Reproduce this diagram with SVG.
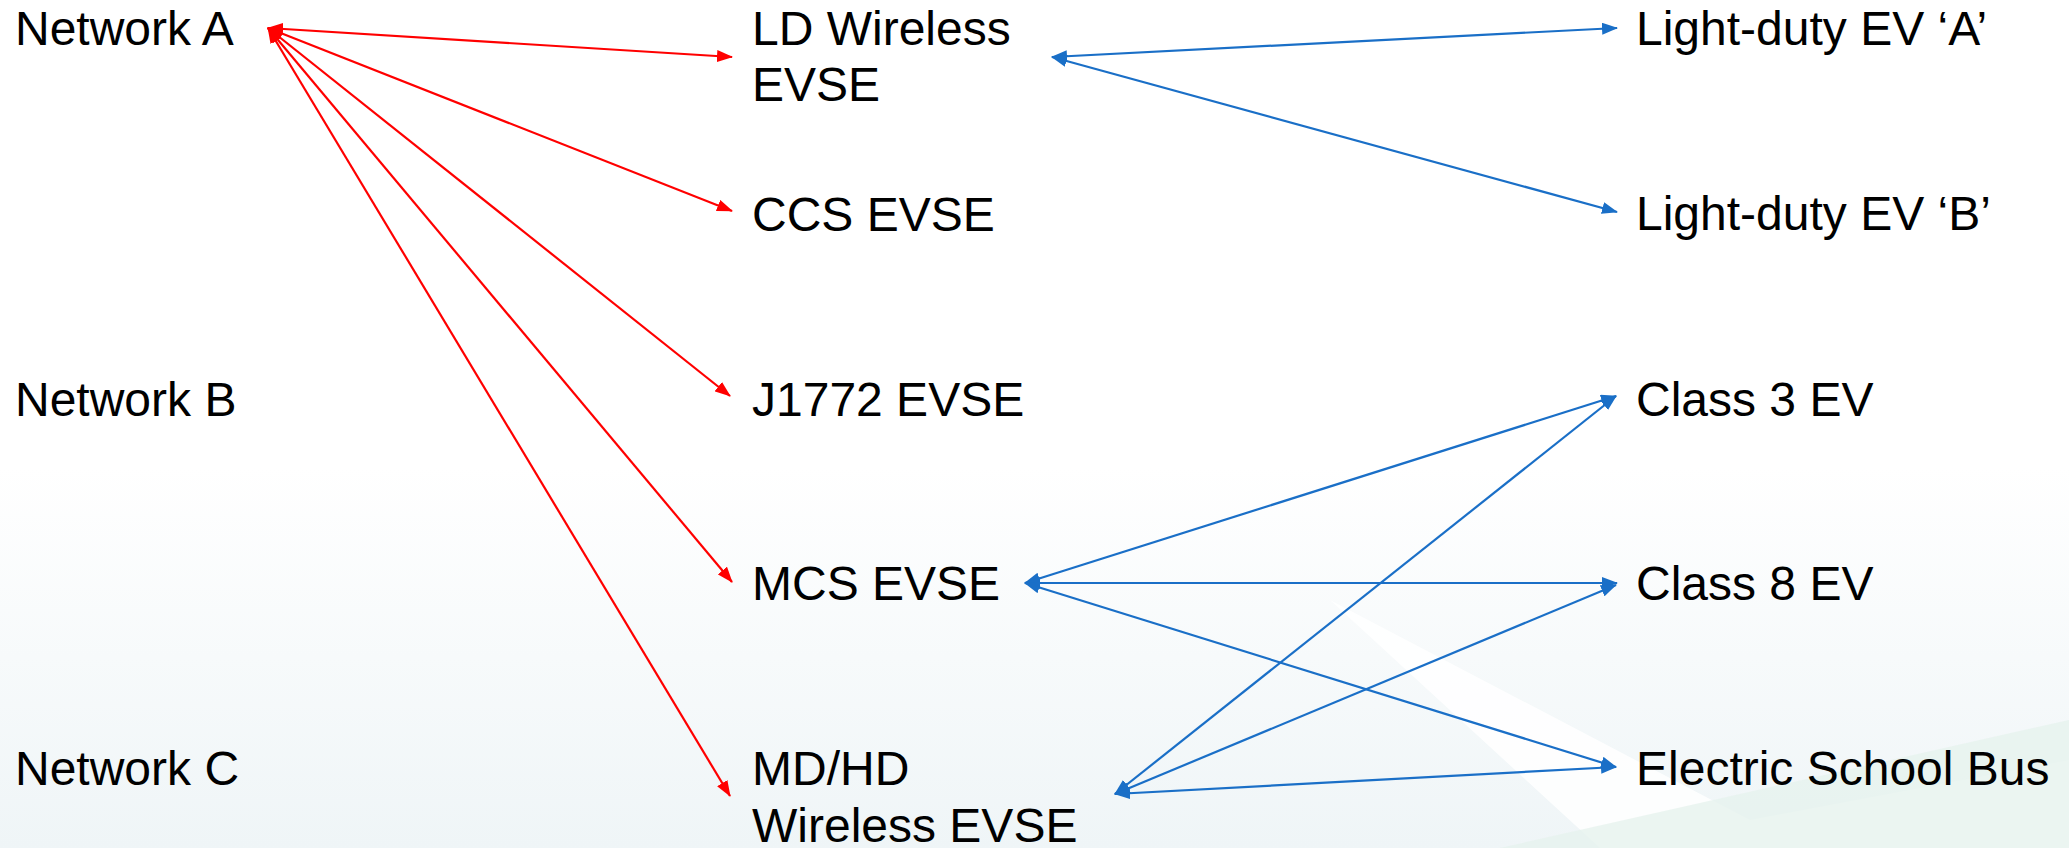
<svg xmlns="http://www.w3.org/2000/svg" width="2069" height="848" viewBox="0 0 2069 848">
<style>
text{font-family:"Liberation Sans",Arial,sans-serif;font-size:48px;fill:#000}
.r{stroke:#ff0000;stroke-width:2.2;fill:none;marker-start:url(#ar);marker-end:url(#ar)}
.b{stroke:#1a6fc7;stroke-width:2.2;fill:none;marker-start:url(#ab);marker-end:url(#ab)}
</style>
<defs>
<linearGradient id="bg" x1="0" y1="0" x2="0" y2="1">
<stop offset="0" stop-color="#ffffff"/>
<stop offset="0.55" stop-color="#ffffff"/>
<stop offset="1" stop-color="#eff5f7"/>
</linearGradient>
<marker id="ar" viewBox="0 0 16 12" refX="15" refY="6" markerWidth="16" markerHeight="12" markerUnits="userSpaceOnUse" orient="auto-start-reverse"><path d="M0,0 L16,6 L0,12 z" fill="#ff0000"/></marker>
<marker id="ab" viewBox="0 0 16 12" refX="15" refY="6" markerWidth="16" markerHeight="12" markerUnits="userSpaceOnUse" orient="auto-start-reverse"><path d="M0,0 L16,6 L0,12 z" fill="#1a6fc7"/></marker>
</defs>
<rect width="2069" height="848" fill="url(#bg)"/>
<polygon points="1330,600 1750,820 2069,760 2069,848 1600,848" fill="#ffffff" opacity="0.85"/>
<polygon points="1500,848 2069,720 2069,848" fill="#e6f3ee" opacity="0.8"/>
<g id="connectors">
<path class="r" d="M268,28 L732,57"/>
<path class="r" d="M268,28 L732,211"/>
<path class="r" d="M268,28 L730,396"/>
<path class="r" d="M268,28 L732,582"/>
<path class="r" d="M268,28 L730,796"/>
<path class="b" d="M1052,57 L1617,28"/>
<path class="b" d="M1052,57 L1617,212"/>
<path class="b" d="M1025,583 L1616,396"/>
<path class="b" d="M1025,583 L1617,583"/>
<path class="b" d="M1025,583 L1616,767"/>
<path class="b" d="M1115,794 L1616,396"/>
<path class="b" d="M1115,794 L1616,585"/>
<path class="b" d="M1115,794 L1616,767"/>
</g>
<g id="network-a"><text x="15" y="45">Network A</text></g>
<g id="network-b"><text x="15" y="416">Network B</text></g>
<g id="network-c"><text x="15" y="785">Network C</text></g>
<g id="ld-wireless-evse"><text x="752" y="45">LD Wireless</text><text x="752" y="101">EVSE</text></g>
<g id="ccs-evse"><text x="752" y="231">CCS EVSE</text></g>
<g id="j1772-evse"><text x="752" y="416">J1772 EVSE</text></g>
<g id="mcs-evse"><text x="752" y="600">MCS EVSE</text></g>
<g id="mdhd-wireless-evse"><text x="752" y="785">MD/HD</text><text x="752" y="842">Wireless EVSE</text></g>
<g id="ld-ev-a"><text x="1636" y="45">Light-duty EV ‘A’</text></g>
<g id="ld-ev-b"><text x="1636" y="230">Light-duty EV ‘B’</text></g>
<g id="class3"><text x="1636" y="416">Class 3 EV</text></g>
<g id="class8"><text x="1636" y="600">Class 8 EV</text></g>
<g id="school-bus"><text x="1636" y="785">Electric School Bus</text></g>
</svg>
